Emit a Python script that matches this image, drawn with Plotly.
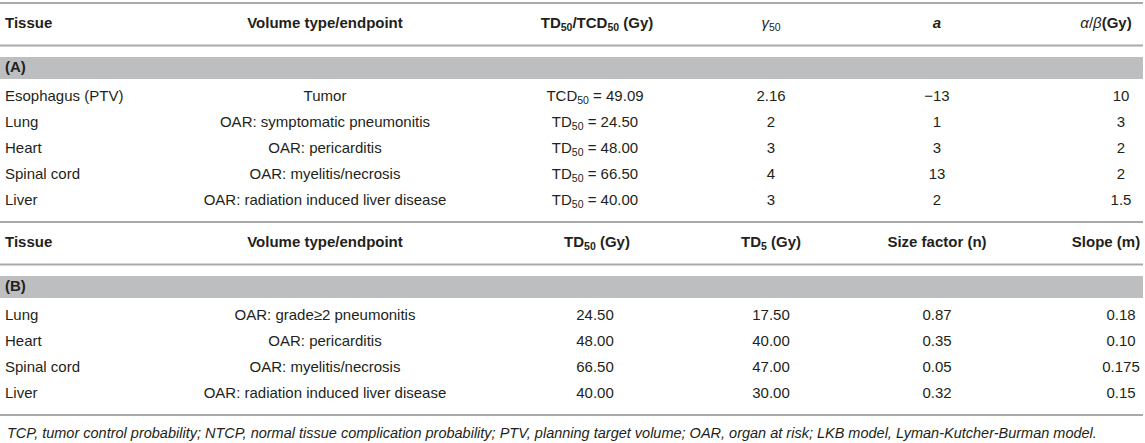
import plotly.graph_objects as go

# (A) TCP / NTCP model parameters
header_a = [
    "<b>Tissue</b>",
    "<b>Volume type/endpoint</b>",
    "<b>TD<sub>50</sub>/TCD<sub>50</sub> (Gy)</b>",
    "<i>γ</i><sub>50</sub>",
    "<b><i>a</i></b>",
    "<i>α</i>/<i>β</i><b>(Gy)</b>",
]
tissue_a = ["Esophagus (PTV)", "Lung", "Heart", "Spinal cord", "Liver"]
endpoint_a = [
    "Tumor",
    "OAR: symptomatic pneumonitis",
    "OAR: pericarditis",
    "OAR: myelitis/necrosis",
    "OAR: radiation induced liver disease",
]
dose_kind_a = ["TCD", "TD", "TD", "TD", "TD"]
dose50_a = [49.09, 24.50, 48.00, 66.50, 40.00]
gamma50_a = [2.16, 2, 3, 4, 3]
a_a = [-13, 1, 3, 13, 2]
alpha_beta_a = [10, 3, 2, 2, 1.5]

# (B) LKB model parameters
header_b = [
    "<b>Tissue</b>",
    "<b>Volume type/endpoint</b>",
    "<b>TD<sub>50</sub> (Gy)</b>",
    "<b>TD<sub>5</sub> (Gy)</b>",
    "<b>Size factor (n)</b>",
    "<b>Slope (m)</b>",
]
tissue_b = ["Lung", "Heart", "Spinal cord", "Liver"]
endpoint_b = [
    "OAR: grade≥2 pneumonitis",
    "OAR: pericarditis",
    "OAR: myelitis/necrosis",
    "OAR: radiation induced liver disease",
]
td50_b = [24.50, 48.00, 66.50, 40.00]
td5_b = [17.50, 40.00, 47.00, 30.00]
size_n_b = [0.87, 0.35, 0.05, 0.32]
slope_m_b = [0.18, 0.10, 0.175, 0.15]

footnote = (
    "TCP, tumor control probability; NTCP, normal tissue complication probability; "
    "PTV, planning target volume; OAR, organ at risk; LKB model, Lyman-Kutcher-Burman model."
)

W, H = 1145, 443
FONT = "Liberation Sans, Arial, Helvetica, sans-serif"
SIZE = 15
TEXT = "#231f20"
RULE = "#a7a9ac"
BAND = "#bcbec0"

# column anchors (px); first column is left aligned, the rest centred
head_x = [5, 325, 597, 771, 937, 1106]
cell_x = [5, 325, 595, 771, 937, 1121]
ROW = 26


def g(v):
    return f"{v:g}".replace("-", "\u2212")


def two_dec(v):
    s = f"{v:.3f}"
    return s[:-1] if s.endswith("0") else s


cols_a = [
    tissue_a,
    endpoint_a,
    [f"{k}<sub>50</sub> = {v:.2f}" for k, v in zip(dose_kind_a, dose50_a)],
    [g(v) for v in gamma50_a],
    [g(v) for v in a_a],
    [g(v) for v in alpha_beta_a],
]
cols_b = [
    tissue_b,
    endpoint_b,
    [f"{v:.2f}" for v in td50_b],
    [f"{v:.2f}" for v in td5_b],
    [f"{v:.2f}" for v in size_n_b],
    [two_dec(v) for v in slope_m_b],
]

fig = go.Figure()
shapes = []


def text_trace(x, y, text, j):
    return go.Scatter(
        x=x, y=y, mode="text", text=text,
        textposition="middle right" if j == 0 else "middle center",
        textfont=dict(family=FONT, size=SIZE, color=TEXT),
        hoverinfo="skip", showlegend=False, cliponaxis=False,
    )


def add_section(start, header, cols, label):
    for y in (start, start + 42.5):
        shapes.append(dict(type="line", x0=0, x1=W - 2, y0=y, y1=y,
                           line=dict(color=RULE, width=2)))
    shapes.append(dict(type="rect", x0=0, x1=W - 2, y0=start + 54, y1=start + 76,
                       fillcolor=BAND, line=dict(width=0), layer="below"))
    nrows = len(cols[0])
    ys = [start + 94.5 + i * ROW for i in range(nrows)]
    for j, (x, h) in enumerate(zip(head_x, header)):
        fig.add_trace(text_trace([x], [start + 21], [h], j))
    fig.add_trace(text_trace([head_x[0]], [start + 65], [f"<b>{label}</b>"], 0))
    for j, (x, vals) in enumerate(zip(cell_x, cols)):
        fig.add_trace(text_trace([x] * nrows, ys, vals, j))
    return ys[-1] + 20.5


end_a = add_section(3, header_a, cols_a, "(A)")
end_b = add_section(end_a, header_b, cols_b, "(B)")
shapes.append(dict(type="line", x0=0, x1=W - 2, y0=end_b, y1=end_b,
                   line=dict(color=RULE, width=2)))

fig.add_annotation(
    x=head_x[0], y=end_b + 18, xref="x", yref="y", text=f"<i>{footnote}</i>",
    showarrow=False, xanchor="left", yanchor="middle",
    font=dict(family=FONT, size=14.5, color=TEXT),
)

fig.update_layout(
    width=W, height=H,
    margin=dict(l=0, r=0, t=0, b=0),
    paper_bgcolor="white", plot_bgcolor="white",
    shapes=shapes,
    xaxis=dict(range=[0, W], visible=False, fixedrange=True),
    yaxis=dict(range=[H, 0], visible=False, fixedrange=True),
)

fig.write_html(
    "out.html",
    config={"displayModeBar": False},
    post_script="document.body.style.margin='0';document.body.style.overflow='hidden';",
)
